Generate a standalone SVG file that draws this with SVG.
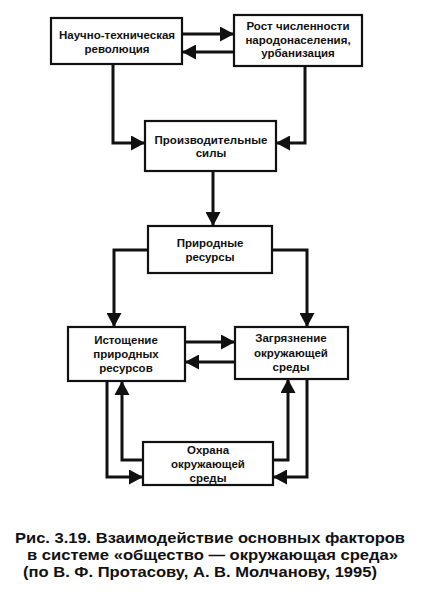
<svg xmlns="http://www.w3.org/2000/svg" width="424" height="597" viewBox="0 0 424 597">
<style>
.box{fill:#fff;stroke:#111;stroke-width:2.2}
.t{font-family:"Liberation Sans",Arial,sans-serif;font-weight:bold;font-size:11.5px;fill:#111;text-anchor:middle}
.c{fill:none;stroke:#111;stroke-width:3}
.cap{font-family:"Liberation Sans",Arial,sans-serif;font-weight:bold;font-size:14px;fill:#111}
</style>
<defs>
<marker id="a" markerUnits="userSpaceOnUse" markerWidth="15" markerHeight="15" refX="14" refY="7.5" orient="auto">
<path d="M0,0 L14,7.5 L0,15 z" fill="#111"/>
</marker>
</defs>
<rect width="424" height="597" fill="#fff"/>
<g id="connectors">
<path class="c" d="M182,34 H234" marker-end="url(#a)"/>
<path class="c" d="M234,52 H182" marker-end="url(#a)"/>
<path class="c" d="M113,64 V143 H145" marker-end="url(#a)"/>
<path class="c" d="M305,66 V143 H276" marker-end="url(#a)"/>
<path class="c" d="M213,171 V226" marker-end="url(#a)"/>
<path class="c" d="M148,250 H114 V327" marker-end="url(#a)"/>
<path class="c" d="M272,250 H307 V327" marker-end="url(#a)"/>
<path class="c" d="M185,342 H235" marker-end="url(#a)"/>
<path class="c" d="M235,362 H185" marker-end="url(#a)"/>
<path class="c" d="M107,381 V477 H143" marker-end="url(#a)"/>
<path class="c" d="M143,460 H122 V381" marker-end="url(#a)"/>
<path class="c" d="M273,460 H288 V379" marker-end="url(#a)"/>
<path class="c" d="M307,379 V477 H273" marker-end="url(#a)"/>
</g>
<g id="n1"><rect class="box" x="51" y="18" width="131" height="46"/>
<text class="t" x="117" y="39">Научно-техническая</text><text class="t" x="117" y="53">революция</text></g>
<g id="n2"><rect class="box" x="234" y="15" width="128" height="51"/>
<text class="t" x="298" y="30">Рост численности</text><text class="t" x="298" y="44">народонаселения,</text><text class="t" x="298" y="57">урбанизация</text></g>
<g id="n3"><rect class="box" x="145" y="121" width="131" height="50"/>
<text class="t" x="211" y="144">Производительные</text><text class="t" x="211" y="157">силы</text></g>
<g id="n4"><rect class="box" x="148" y="226" width="124" height="47"/>
<text class="t" x="210" y="247">Природные</text><text class="t" x="210" y="261">ресурсы</text></g>
<g id="n5"><rect class="box" x="68" y="327" width="117" height="54"/>
<text class="t" x="126" y="344">Истощение</text><text class="t" x="126" y="358">природных</text><text class="t" x="126" y="372">ресурсов</text></g>
<g id="n6"><rect class="box" x="235" y="327" width="113" height="52"/>
<text class="t" x="291" y="342">Загрязнение</text><text class="t" x="291" y="357">окружающей</text><text class="t" x="291" y="371">среды</text></g>
<g id="n7"><rect class="box" x="143" y="442" width="130" height="43"/>
<text class="t" x="208" y="454">Охрана</text><text class="t" x="208" y="468">окружающей</text><text class="t" x="208" y="482">среды</text></g>
<g id="caption">
<text class="cap" x="15" y="543" textLength="390" lengthAdjust="spacingAndGlyphs">Рис. 3.19. Взаимодействие основных факторов</text>
<text class="cap" x="27" y="560" textLength="371" lengthAdjust="spacingAndGlyphs">в системе «общество — окружающая среда»</text>
<text class="cap" x="23" y="577" textLength="354" lengthAdjust="spacingAndGlyphs">(по В. Ф. Протасову, А. В. Молчанову, 1995)</text>
</g>
</svg>
